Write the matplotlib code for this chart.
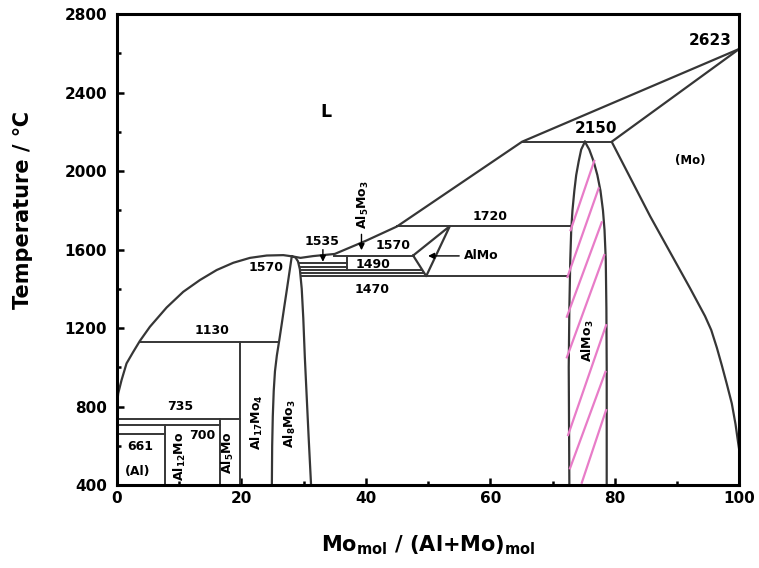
import matplotlib
matplotlib.use('Agg')
import matplotlib.pyplot as plt
from matplotlib.ticker import MultipleLocator

plt.rcParams['font.family'] = ['DejaVu Sans']
plt.rcParams['font.weight'] = 'bold'
plt.rcParams['mathtext.default'] = 'regular'

LINE = '#363636'
PINK = '#e87cc8'

# liquidus, Al side (up to the Al8Mo3 maximum)
liq_al_x = [0.0, 0.0, 0.21, 0.75, 1.55, 2.63, 3.70, 5.31, 7.99, 10.66, 13.34, 16.03, 18.70, 21.38, 24.07, 26.74, 28.1]
liq_al_t = [735, 799, 867, 935, 1020, 1079, 1135, 1207, 1305, 1385, 1445, 1496, 1533, 1558, 1570, 1572, 1566]

# liquidus, Mo side
liq_mo_x = [28.3, 29.5, 31.5, 35.0, 40.0, 45.0, 65.1, 100.0]
liq_mo_t = [1565, 1558, 1567, 1578, 1645, 1718, 2150, 2623]

# solidus / solvus of (Mo)
mo_x = [100.0, 79.5, 85.7, 92.1, 94.5, 95.5, 96.4, 97.2, 98.0, 98.8, 99.4, 99.8, 100.0]
mo_t = [2623, 2150, 1769, 1403, 1261, 1190, 1100, 1010, 915, 816, 710, 620, 578]

# Al8Mo3 boundaries
al8_left_x = [28.1, 27.7, 27.3, 26.9, 26.5, 26.1, 25.7, 25.4, 25.2, 25.05, 24.95, 24.9]
al8_left_t = [1566, 1480, 1394, 1310, 1224, 1140, 1060, 980, 880, 750, 600, 400]
al8_right_x = [28.1, 28.7, 29.1, 29.4, 29.7, 29.95, 30.2, 30.5, 30.8, 31.2]
al8_right_t = [1566, 1560, 1540, 1500, 1400, 1250, 1050, 850, 650, 400]

# AlMo3 boundaries
almo3_left_x = [75.2, 74.6, 74.2, 73.8, 73.5, 73.2, 73.0, 72.85, 72.7, 72.6, 72.65, 72.7]
almo3_left_t = [2150, 2110, 2050, 1980, 1900, 1800, 1700, 1550, 1300, 1000, 700, 400]
almo3_right_x = [75.2, 75.9, 76.6, 77.2, 77.7, 78.1, 78.35, 78.55, 78.65, 78.7, 78.7]
almo3_right_t = [2150, 2110, 2050, 1980, 1900, 1800, 1700, 1550, 1300, 1000, 400]

# AlMo triangle
almo_x = [47.6, 53.5, 49.7, 47.6]
almo_t = [1570, 1720, 1465, 1570]

# horizontal invariants: temperature, start, end
iso_t = [661, 705, 735, 1130, 1465, 1481, 1496, 1512, 1532, 1570, 1720, 2150]
iso_x0 = [0, 0, 0, 3.7, 29.8, 29.6, 29.5, 29.4, 29.2, 34.9, 45.0, 65.1]
iso_x1 = [7.7, 16.6, 19.8, 26.05, 72.7, 49.4, 49.1, 36.9, 36.9, 47.6, 73.0, 79.5]

# vertical compound lines: composition, bottom, top
vert_x = [7.7, 16.6, 19.8, 36.9]
vert_t0 = [400, 400, 400, 1496]
vert_t1 = [705, 735, 1130, 1570]

# pink hatching in AlMo3
hatch_x0 = [76.7, 77.4, 77.9, 78.3, 78.6, 78.5, 78.6]
hatch_t0 = [2052, 1912, 1739, 1572, 1215, 977, 782]
hatch_x1 = [72.9, 72.4, 72.3, 72.3, 72.5, 72.8, 74.7]
hatch_t1 = [1699, 1461, 1258, 1051, 655, 485, 412]

# plain labels: text, x, T, size
lab_text = ['L', '2623', '2150', '(Mo)', '1720', '1535', '1570', '1490', '1470',
            '1570', '1130', '735', '700', '661', '(Al)']
lab_x = [33.6, 95.3, 77.0, 92.2, 60.0, 32.9, 44.4, 41.1, 41.0, 24.0, 15.3, 10.1, 13.7, 3.8, 3.3]
lab_t = [2300, 2668, 2217, 2055, 1768, 1640, 1623, 1524, 1396, 1508, 1190, 803, 655, 599, 469]
lab_size = [12.5, 11, 11, 8.5, 9, 9, 9, 9, 9, 9, 9, 9, 9, 9, 9]

# rotated phase labels
rot_text = ['Al$_{12}$Mo', 'Al$_5$Mo', 'Al$_{17}$Mo$_4$', 'Al$_8$Mo$_3$', 'Al$_5$Mo$_3$', 'AlMo$_3$']
rot_x = [10.1, 17.9, 22.5, 27.8, 39.6, 75.7]
rot_t = [545, 566, 718, 716, 1830, 1134]

fig = plt.figure(figsize=(7.59, 5.68), dpi=100)
ax = fig.add_axes([0.154, 0.146, 0.820, 0.829])

lw = 1.6
for xs, ts in [(liq_al_x, liq_al_t), (liq_mo_x, liq_mo_t), (mo_x, mo_t),
               (al8_left_x, al8_left_t), (al8_right_x, al8_right_t),
               (almo3_left_x, almo3_left_t), (almo3_right_x, almo3_right_t),
               (almo_x, almo_t)]:
    ax.plot(xs, ts, color=LINE, lw=lw, solid_joinstyle='round')

for t, a, b in zip(iso_t, iso_x0, iso_x1):
    ax.plot([a, b], [t, t], color=LINE, lw=1.4)
for x, a, b in zip(vert_x, vert_t0, vert_t1):
    ax.plot([x, x], [a, b], color=LINE, lw=1.4)

for a, b, c, d in zip(hatch_x0, hatch_t0, hatch_x1, hatch_t1):
    ax.plot([a, c], [b, d], color=PINK, lw=1.6)

for s, x, t, fs in zip(lab_text, lab_x, lab_t, lab_size):
    ax.text(x, t, s, ha='center', va='center', fontsize=fs, fontweight='bold')
for s, x, t in zip(rot_text, rot_x, rot_t):
    ax.text(x, t, s, ha='center', va='center', rotation=90, fontsize=9, fontweight='bold')

ax.text(55.7, 1568, 'AlMo', ha='left', va='center', fontsize=9, fontweight='bold')

arr = dict(arrowstyle='-|>', color='black', lw=1.0, mutation_scale=9, shrinkA=0, shrinkB=0)
ax.annotate('', xy=(33.1, 1538), xytext=(33.1, 1600), arrowprops=arr)
ax.annotate('', xy=(39.3, 1597), xytext=(39.3, 1678), arrowprops=arr)
ax.annotate('', xy=(50.0, 1568), xytext=(55.0, 1568), arrowprops=arr)

ax.set_xlim(0, 100)
ax.set_ylim(400, 2800)
ax.xaxis.set_major_locator(MultipleLocator(20))
ax.xaxis.set_minor_locator(MultipleLocator(10))
ax.yaxis.set_major_locator(MultipleLocator(400))
ax.yaxis.set_minor_locator(MultipleLocator(200))
ax.tick_params(which='both', direction='in', width=1.8, labelsize=11)
ax.tick_params(which='major', length=5)
ax.tick_params(which='minor', length=3)
ax.tick_params(axis='x', pad=4)
ax.tick_params(axis='y', pad=7)
for lbl in ax.get_xticklabels() + ax.get_yticklabels():
    lbl.set_fontweight('bold')
for sp in ax.spines.values():
    sp.set_linewidth(2.2)

ax.set_xlabel('Mo$_{mol}$ / (Al+Mo)$_{mol}$', fontsize=15, fontweight='bold')
ax.set_ylabel('Temperature / ℃', fontsize=15, fontweight='bold')
ax.xaxis.set_label_coords(0.5, -0.102)
ax.yaxis.set_label_coords(-0.134, 0.584)

fig.savefig('out.png', dpi=100)
